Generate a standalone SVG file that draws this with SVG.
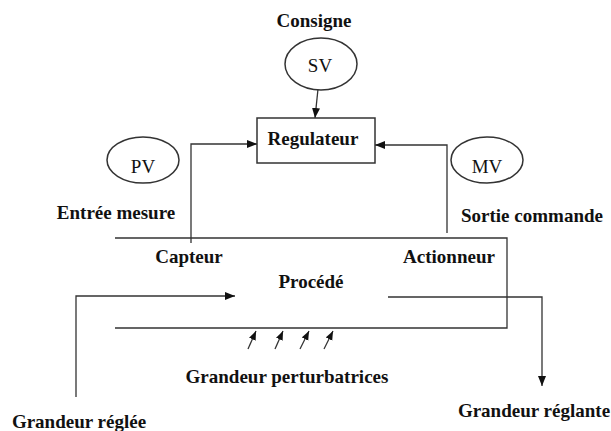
<svg xmlns="http://www.w3.org/2000/svg" width="611" height="431" viewBox="0 0 611 431">
<style>
.t{font-family:"Liberation Serif","Times New Roman",serif;font-size:19px;fill:#111;text-anchor:middle}
.b{font-weight:bold}
.ln{fill:none;stroke:#333;stroke-width:1.3}
.sh{fill:#fff;stroke:#333;stroke-width:1.5}
</style>
<defs>
<marker id="ah" viewBox="0 0 10 8" refX="10" refY="4" markerWidth="10" markerHeight="8" markerUnits="userSpaceOnUse" orient="auto">
<path d="M0,0 L10,4 L0,8 z" fill="#111"/>
</marker>
<marker id="ahs" viewBox="0 0 10 8" refX="10" refY="4" markerWidth="9" markerHeight="8" markerUnits="userSpaceOnUse" orient="auto">
<path d="M0,0 L10,4 L0,8 z" fill="#111"/>
</marker>
</defs>
<g id="labels">
<text class="t b" x="314" y="27">Consigne</text>
<text class="t b" x="116" y="219">Entrée mesure</text>
<text class="t b" x="532" y="222">Sortie commande</text>
<text class="t b" x="79" y="428">Grandeur réglée</text>
<text class="t b" x="534" y="417">Grandeur réglante</text>
<text class="t b" x="287" y="383">Grandeur perturbatrices</text>
</g>
<g id="connectors">
<path class="ln" d="M318,89 L315,118" marker-end="url(#ah)"/>
<path class="ln" d="M191,243 V144 H257" marker-end="url(#ah)"/>
<path class="ln" d="M447,233 V145 H375" marker-end="url(#ah)"/>
<path class="ln" d="M76,397 V296 H235" marker-end="url(#ah)"/>
<path class="ln" d="M388,297 H542 V386" marker-end="url(#ah)"/>
<path class="ln" d="M248,349 L256,331" marker-end="url(#ahs)"/>
<path class="ln" d="M275,349 L283,331" marker-end="url(#ahs)"/>
<path class="ln" d="M300,349 L309,331" marker-end="url(#ahs)"/>
<path class="ln" d="M324,349 L333,331" marker-end="url(#ahs)"/>
</g>
<g id="sv">
<ellipse class="sh" cx="321" cy="64" rx="36" ry="26"/>
<text class="t" x="320" y="72">SV</text>
</g>
<g id="regulateur">
<rect class="sh" x="257" y="118" width="118" height="45"/>
<text class="t b" x="313" y="145">Regulateur</text>
</g>
<g id="pv">
<ellipse class="sh" cx="143" cy="160" rx="36" ry="23"/>
<text class="t" x="143" y="173">PV</text>
</g>
<g id="mv">
<ellipse class="sh" cx="487" cy="160" rx="36" ry="23"/>
<text class="t" x="487" y="173">MV</text>
</g>
<g id="procede">
<path class="ln" d="M115,238 H507 V328 H115"/>
<text class="t b" x="189" y="263">Capteur</text>
<text class="t b" x="449" y="263">Actionneur</text>
<text class="t b" x="311" y="288">Procédé</text>
</g>
</svg>
